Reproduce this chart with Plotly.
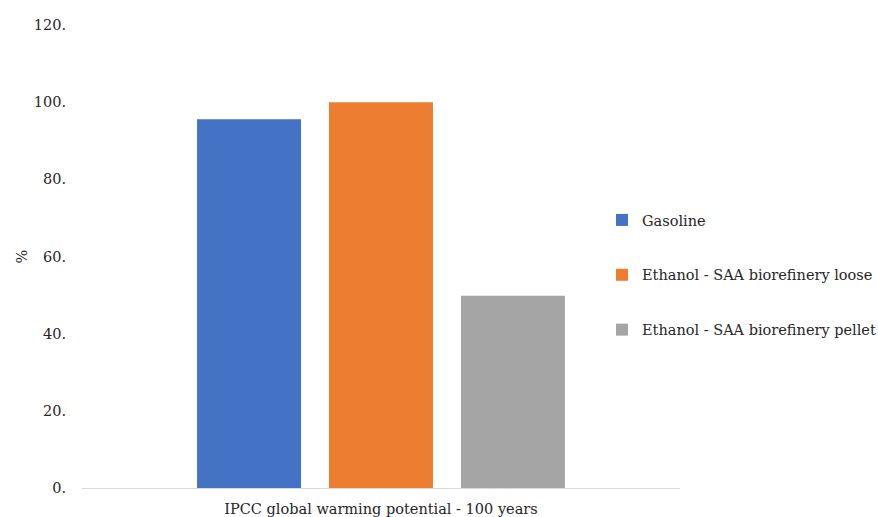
import plotly.graph_objects as go

# Category and series data
category = ["IPCC global warming potential - 100 years"]
series_names = ["Gasoline", "Ethanol - SAA biorefinery loose", "Ethanol - SAA biorefinery pellet"]
series_values = [[95.6], [100.0], [49.8]]
series_colors = ["#4472C4", "#ED7D31", "#A5A5A5"]

# Y-axis ticks
tick_vals = [0, 20, 40, 60, 80, 100, 120]
tick_text = ["0.", "20.", "40.", "60.", "80.", "100.", "120."]

FONT = "DejaVu Serif"
SIZE = 14.5
TXT = "#262626"

fig = go.Figure()
for i, (name, vals, col) in enumerate(zip(series_names, series_values, series_colors)):
    fig.add_trace(go.Bar(
        x=category, y=vals, name=name, marker=dict(color=col, line=dict(width=0)),
        legendgroup=f"g{i}",
    ))

fig.update_layout(
    width=878, height=517,
    margin=dict(l=82, r=198, t=25, b=29, autoexpand=False),
    paper_bgcolor="white", plot_bgcolor="white",
    barmode="group", bargap=0.338, bargroupgap=0.212,
    font=dict(family=FONT, size=SIZE, color=TXT),
    showlegend=True,
    legend=dict(
        xref="container", yref="container",
        x=602 / 878, xanchor="left", y=1 - 275 / 517, yanchor="middle",
        font=dict(family=FONT, size=SIZE, color=TXT),
        tracegroupgap=33, itemwidth=30,
    ),
    xaxis=dict(
        range=[-0.5, 0.5], showgrid=False, showline=True, linecolor="#d9d9d9",
        linewidth=1, ticks="", showticklabels=False,
        title=dict(text=category[0], font=dict(family=FONT, size=SIZE, color=TXT), standoff=18),
    ),
    yaxis=dict(
        range=[0, 120], tickvals=tick_vals, ticktext=tick_text, showgrid=False,
        zeroline=False, showline=False, ticks="outside", ticklen=12, tickcolor="white",
        tickfont=dict(family=FONT, size=SIZE, color=TXT),
        title=dict(text="%", font=dict(family=FONT, size=SIZE, color=TXT), standoff=2),
    ),
)

fig.write_html("out.html")
